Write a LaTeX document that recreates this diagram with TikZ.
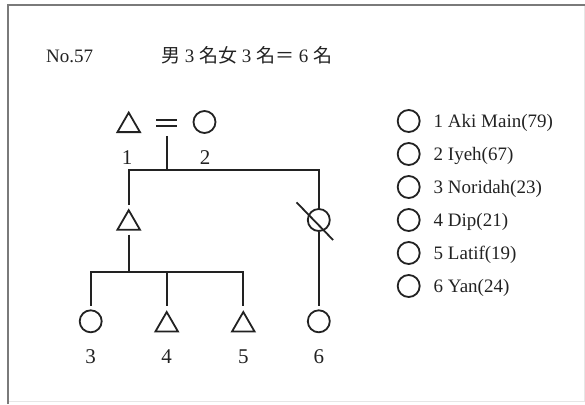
\documentclass[tikz,border=0pt]{standalone}
\usepackage{fontspec}
\setmainfont{Liberation Serif}
\newfontfamily\cjk{Noto Sans CJK JP}
\usetikzlibrary{shapes.geometric,calc}
\definecolor{ink}{HTML}{222222}
\definecolor{framec}{HTML}{7A7A7A}
\definecolor{faint}{HTML}{E6E6E6}
\begin{document}
\begin{tikzpicture}[x=1pt,y=-1pt,
  sym/.style={draw=ink, line width=1.8pt, inner sep=0pt, outer sep=0pt},
  fem/.style={sym, circle, minimum size=22pt},
  mal/.style={sym, regular polygon, regular polygon sides=3, minimum size=26pt},
  link/.style={draw=ink, line width=1.8pt},
  lbl/.style={font=\fontsize{21}{21}\selectfont, text=ink, inner sep=0pt, anchor=base},
  txt/.style={font=\fontsize{19}{19}\selectfont, text=ink, inner sep=0pt, anchor=base west}]
\useasboundingbox (0,0) rectangle (585,404);
% frame
\draw[faint, line width=1pt] (584,5.5) -- (584,401) -- (8,401);
\draw[framec, line width=2pt] (8,404) -- (8,5.5) -- (585,5.5);
% heading
\node[txt] (no) at (46,62.3) {No.57};
\node[txt] (hd) at (161,62.3) {{\cjk 男} 3 {\cjk 名女} 3 {\cjk 名＝} 6 {\cjk 名}};
% parents
\node[mal] (p1) at (128.7,125.6) {};
\node[minimum width=21pt, minimum height=5.8pt, inner sep=0pt, outer sep=0pt] (eq) at (166.6,122.9) {};
\draw[link] (eq.north west) -- (eq.north east);
\draw[link] (eq.south west) -- (eq.south east);
\node[fem] (p2) at (204.5,122) {};
\node[lbl] (l1) at (127,164) {1};
\node[lbl] (l2) at (205,164) {2};
% first generation
\coordinate (sib1) at (166.6,170);
\node[mal] (ta) at (128.7,223.2) {};
\node[fem] (cx) at (318.8,220) {};
\draw[link] ($(cx)+(-22.3,-17.7)$) -- ($(cx)+(14.3,20)$);
\draw[link] ([yshift=-10pt]eq.south) -- (sib1);
\draw[link, shorten <=5pt] (ta.north) |- (sib1) -| (cx.north);
% second generation
\coordinate (sib2) at (128.7,271.7);
\node[fem] (p3) at (90.7,321.3) {};
\node[mal] (p4) at (166.7,325) {};
\node[mal] (p5) at (243.3,325) {};
\node[fem] (p6) at (318.8,321.3) {};
\draw[link, shorten <=5pt] (ta.south) -- (sib2);
\draw[link, shorten >=4pt] (sib2) -| (p3.north);
\draw[link, shorten >=6pt] (sib2) -| (p4.north);
\draw[link, shorten >=6pt] (sib2) -| (p5.north);
\draw[link, shorten <=1pt, shorten >=4pt] (cx.south) -- (p6.north);
\node[lbl] (l3) at (90.7,363) {3};
\node[lbl] (l4) at (166.7,363) {4};
\node[lbl] (l5) at (243.3,363) {5};
\node[lbl] (l6) at (318.8,363) {6};
% legend
\node[fem] (k1) at (408.7,121) {};
\node[fem] (k2) at (408.7,154) {};
\node[fem] (k3) at (408.7,187) {};
\node[fem] (k4) at (408.7,220) {};
\node[fem] (k5) at (408.7,253) {};
\node[fem] (k6) at (408.7,286) {};
\node[txt] (n1) at (433.5,127.5) {1 Aki Main(79)};
\node[txt] (n2) at (433.5,160.5) {2 Iyeh(67)};
\node[txt] (n3) at (433.5,193.5) {3 Noridah(23)};
\node[txt] (n4) at (433.5,226.5) {4 Dip(21)};
\node[txt] (n5) at (433.5,259.5) {5 Latif(19)};
\node[txt] (n6) at (433.5,292.5) {6 Yan(24)};
\end{tikzpicture}
\end{document}
